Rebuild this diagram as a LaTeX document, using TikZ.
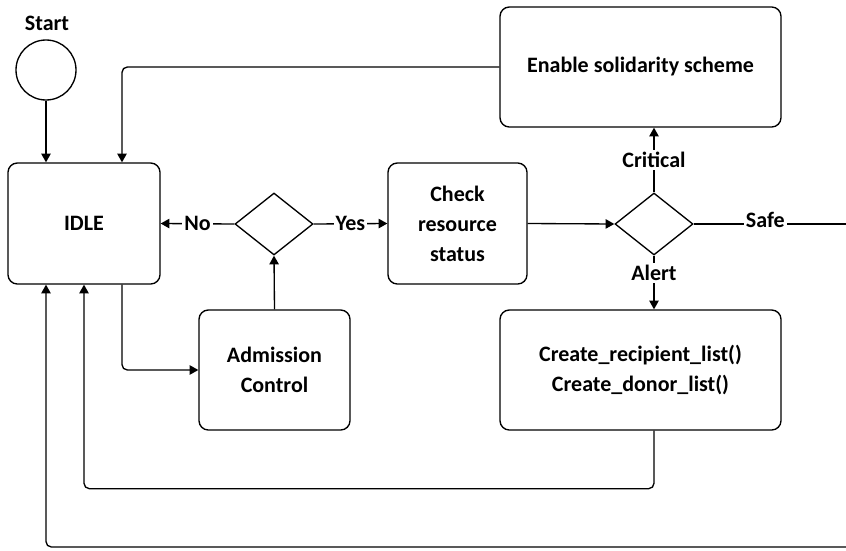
\documentclass[tikz,border=0pt]{standalone}
\usepackage{fontspec}
\setmainfont{Carlito}
\usetikzlibrary{shapes.geometric,arrows.meta}

\begin{document}
\begin{tikzpicture}[x=0.75pt, y=-0.75pt, line width=1pt,
    >={Triangle[length=6.5pt,width=7pt]},
    font=\fontsize{16.5}{22.5}\selectfont\bfseries,
    state/.style={rectangle,draw,rounded corners=7pt,align=center,inner sep=0pt},
    test/.style={diamond,draw,minimum width=58.5pt,minimum height=46.5pt,inner sep=0pt},
    cond/.style={fill=white,inner sep=1.5pt}]

    \useasboundingbox (0,0) rectangle (846,550);

    % states
    \node[circle,draw,minimum size=45pt,inner sep=0pt] (start) at (46,70) {};
    \node (startlbl) at (47,23) {Start};
    \node[state,minimum width=114pt,minimum height=90.75pt] (idle) at (84,223.5) {IDLE};
    \node[state,minimum width=210.75pt,minimum height=90pt] (solid) at (640.5,67) {Enable solidarity scheme};
    \node[test] (admit) at (274,224) {};
    \node[state,minimum width=104.25pt,minimum height=90.75pt] (check) at (457.5,223.5) {Check\\resource\\status};
    \node[test] (level) at (654,224) {};
    \node[state,minimum width=113.25pt,minimum height=90pt] (adm) at (274.5,370) {Admission\\Control};
    \node[state,minimum width=210.75pt,minimum height=90pt] (create) at (640.5,370) {Create\_recipient\_list()\\Create\_donor\_list()};
    \coordinate (safeend) at (846,224);
    \coordinate (loopend) at (846,547);

    % transitions
    \draw[->] (start) -- (start |- idle.north);
    \draw[->,rounded corners=4pt] (solid.west) -| ([xshift=28.5pt]idle.north);
    \draw[->] (admit.west) -- node[cond] {No} (idle.east);
    \draw[->] (admit.east) -- node[cond] {Yes} (check.west);
    \draw[->] (check.east) -- (level.west);
    \draw[->] (level.north) -- node[cond] {Critical} (level.north |- solid.south);
    \draw[->] (level.south) -- node[cond,pos=0.32] {Alert} (level.south |- create.north);
    \draw (level.east) -- node[cond,pos=0.47,yshift=3pt] {Safe} (safeend);
    \draw[->,rounded corners=4pt] ([xshift=28.5pt]idle.south) |- (adm.west);
    \draw[->] (adm.north) -- (admit.south);
    \draw[->,rounded corners=4pt] (create.south -| level) -- ++(0,58) -| (idle.south);
    \draw[->,rounded corners=4pt] (loopend) -| ([xshift=-28.5pt]idle.south);

\end{tikzpicture}
\end{document}
